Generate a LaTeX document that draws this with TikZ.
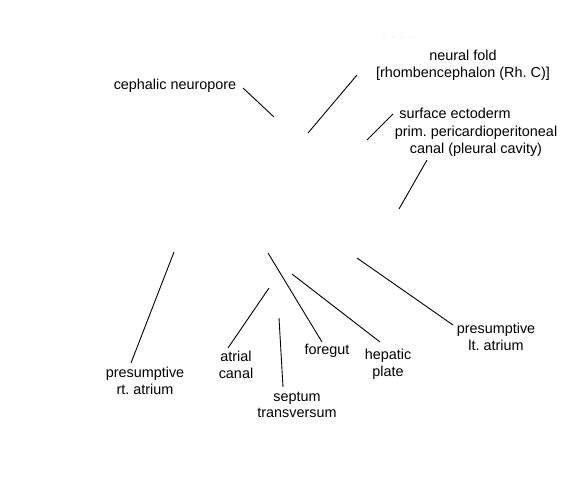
\documentclass[tikz,border=0pt]{standalone}
\usepackage{fontspec}
\setmainfont{Liberation Sans}
\frenchspacing
\begin{document}
\begin{tikzpicture}[x=1pt,y=-1pt,
  lbl/.style={inner sep=0pt,align=center,font=\fontsize{14.4}{16.6}\selectfont\frenchspacing},
  lead/.style={line width=0.9pt,black}]
\useasboundingbox (0,0) rectangle (561,495);
% faint dots at top
\foreach \i in {0,1,2,3} \fill[gray!40] (384+9*\i,37) circle (0.7);
% labels
\node[lbl] (cn) at (175,86) {cephalic neuropore};
\node[lbl] (nf) at (463,65) {neural fold\\{[rhombencephalon (Rh. C)]}};
\node[lbl] (se) at (455,113) {surface ectoderm};
\node[lbl] (pp) at (476,141) {prim. pericardioperitoneal\\canal (pleural cavity)};
\node[lbl] (ra) at (145,381) {presumptive\\rt. atrium};
\node[lbl] (ac) at (236,365) {atrial\\canal};
\node[lbl] (st) at (297,405) {septum\\transversum};
\node[lbl] (fg) at (327,351) {foregut};
\node[lbl] (hp) at (388,364) {hepatic\\plate};
\node[lbl] (la) at (496,337) {presumptive\\lt. atrium};
% leader end points
\coordinate (cnA) at (243,88);  \coordinate (cnB) at (274,117);
\coordinate (nfA) at (357,75);  \coordinate (nfB) at (308,133);
\coordinate (seA) at (393,114); \coordinate (seB) at (367,140);
\coordinate (ppA) at (427,160); \coordinate (ppB) at (399,209);
\coordinate (raA) at (131,363); \coordinate (raB) at (174,252);
\coordinate (acA) at (228,348); \coordinate (acB) at (269,288);
\coordinate (stA) at (283,387); \coordinate (stB) at (279,318);
\coordinate (fgA) at (322,342); \coordinate (fgB) at (268,253);
\coordinate (hpA) at (380,342); \coordinate (hpB) at (292,274);
\coordinate (laA) at (453,325); \coordinate (laB) at (357,258);
\foreach \n in {cn,nf,se,pp,ra,ac,st,fg,hp,la}
  \draw[lead] (\n A) -- (\n B);
\end{tikzpicture}
\end{document}
